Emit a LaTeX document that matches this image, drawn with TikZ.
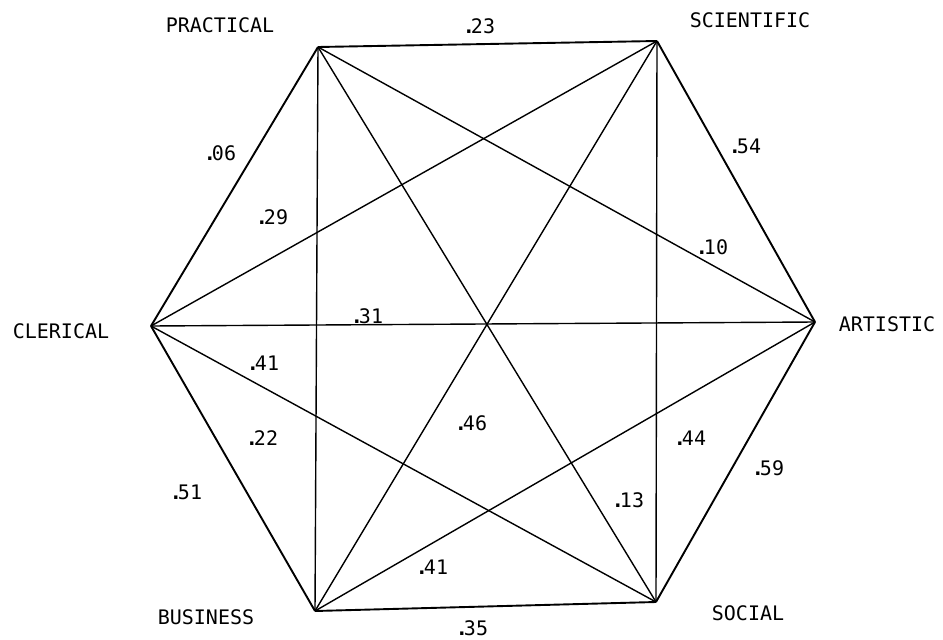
\documentclass[tikz,border=0pt]{standalone}
\usepackage{fontspec}
\newfontfamily\lblfont{DejaVu Sans Mono}
\begin{document}
\begin{tikzpicture}[x=1pt,y=-1pt,
  vname/.style={font=\lblfont\fontsize{20}{24}\selectfont, inner sep=0pt, anchor=center},
  corr/.style={font=\lblfont\fontsize{20}{24}\selectfont, inner sep=0pt, anchor=center},
  hexedge/.style={line width=1.9pt, line join=round},
  diag/.style={line width=1.4pt}]
\useasboundingbox[fill=white] (0,0) rectangle (943,640);
% vertices
\coordinate (P) at (318,47);
\coordinate (S) at (657,41);
\coordinate (A) at (815,322);
\coordinate (So) at (656,602);
\coordinate (B) at (315,611);
\coordinate (C) at (151,326);
% vertex names
\node[vname] (nP) at (220,25) {PRACTICAL};
\node[vname] (nS) at (750,20) {SCIENTIFIC};
\node[vname] (nA) at (887,324) {ARTISTIC};
\node[vname] (nSo) at (748,613) {SOCIAL};
\node[vname] (nB) at (206,617) {BUSINESS};
\node[vname] (nC) at (61,331) {CLERICAL};
% hexagon edges
\draw[hexedge] (P) -- (S);
\draw[hexedge] (S) -- (A);
\draw[hexedge] (A) -- (So);
\draw[hexedge] (So) -- (B);
\draw[hexedge] (B) -- (C);
\draw[hexedge] (C) -- (P);
% diagonals
\draw[diag] (P) -- (A);
\draw[diag] (P) -- (So);
\draw[diag] (P) -- (B);
\draw[diag] (S) -- (C);
\draw[diag] (S) -- (B);
\draw[diag] (S) -- (So);
\draw[diag] (C) -- (A);
\draw[diag] (C) -- (So);
\draw[diag] (B) -- (A);
% correlations
\newcommand{\cv}[1]{\textbf{.}\kern-0.2em#1}
\node[corr] (c23) at (479,26) {\cv{23}};
\node[corr] (c54) at (745,146) {\cv{54}};
\node[corr] (c06) at (220,153) {\cv{06}};
\node[corr] (c29) at (272,217) {\cv{29}};
\node[corr] (c10) at (712,247) {\cv{10}};
\node[corr] (c31) at (367,316) {\cv{31}};
\node[corr] (c41a) at (263,363) {\cv{41}};
\node[corr] (c22) at (262,438) {\cv{22}};
\node[corr] (c51) at (186,492) {\cv{51}};
\node[corr] (c46) at (471,423) {\cv{46}};
\node[corr] (c44) at (690,438) {\cv{44}};
\node[corr] (c59) at (768,468) {\cv{59}};
\node[corr] (c13) at (628,500) {\cv{13}};
\node[corr] (c41b) at (432,567) {\cv{41}};
\node[corr] (c35) at (472,628) {\cv{35}};
\end{tikzpicture}
\end{document}
